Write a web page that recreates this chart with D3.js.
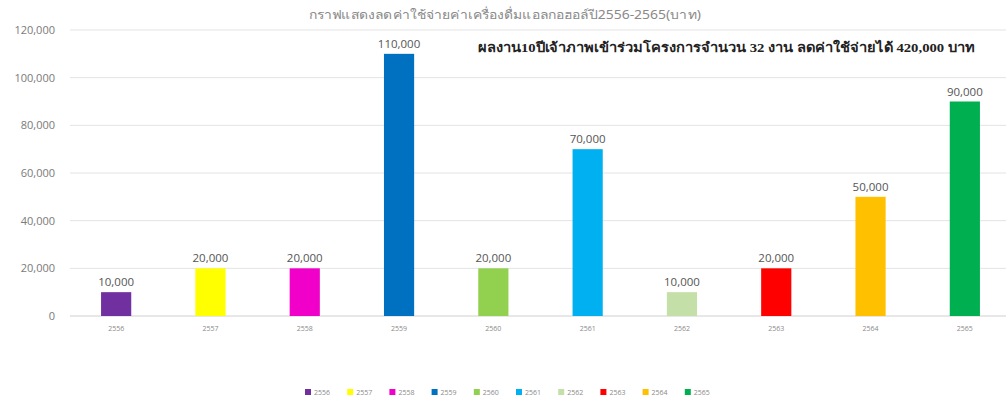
<!DOCTYPE html>
<html><head><meta charset="utf-8">
<script src="https://cdn.jsdelivr.net/npm/d3@7"></script>
<style>body{margin:0;background:#fff;}svg{display:block;}</style>
</head><body>
<svg id="c" width="1006" height="400"></svg>
<script>
const categories = ["2556","2557","2558","2559","2560","2561","2562","2563","2564","2565"];
const values = [10000,20000,20000,110000,20000,70000,10000,20000,50000,90000];
const colors = ["#7030A0","#FFFF00","#F000C8","#0070C0","#92D050","#00B0F0","#C5DFA8","#FF0000","#FFC000","#00B050"];
const yTicks = [0,20000,40000,60000,80000,100000,120000];
const titleText = "กราฟแสดงลดค่าใช้จ่ายค่าเครื่องดื่มแอลกอฮอล์ปี2556-2565(บาท)";
const noteText = "ผลงาน10ปีเจ้าภาพเข้าร่วมโครงการจำนวน 32 งาน ลดค่าใช้จ่ายได้ 420,000 บาท";

const svg = d3.select("#c");
const x = d3.scaleBand().domain(categories).range([69, 1012]).paddingInner(0.68).paddingOuter(0.34);
const y = d3.scaleLinear().domain([0,120000]).range([316,30]);
const fmt = d3.format(",");

// gridlines
svg.append("g").selectAll("line").data(yTicks).join("line")
  .attr("x1",70).attr("x2",1006)
  .attr("y1",d=>y(d)).attr("y2",d=>y(d))
  .attr("stroke",d=>d===0?"#d0d0d0":"#e3e3e3").attr("stroke-width",1);

// y axis labels
const yAxis = d3.axisLeft(y).tickValues(yTicks).tickFormat(fmt).tickSize(0).tickPadding(0);
const ga = svg.append("g").attr("transform","translate(55,0)").call(yAxis);
ga.select(".domain").remove();
ga.selectAll("text").attr("font-family","Open Sans, sans-serif").attr("font-size",11).attr("fill","#7a7a7a");

// bars
const data = categories.map((c,i)=>({c, v:values[i], col:colors[i]}));
svg.append("g").selectAll("rect").data(data).join("rect")
  .attr("x",d=>x(d.c)).attr("width",x.bandwidth())
  .attr("y",d=>y(d.v)).attr("height",d=>y(0)-y(d.v))
  .attr("fill",d=>d.col);

// value labels
svg.append("g").selectAll("text").data(data).join("text")
  .attr("x",d=>x(d.c)+x.bandwidth()/2).attr("y",d=>y(d.v)-6)
  .attr("text-anchor","middle").attr("font-family","Open Sans, sans-serif")
  .attr("font-size",11.5).attr("fill","#555").text(d=>fmt(d.v));

// x axis labels
const xAxis = d3.axisBottom(x).tickSize(0).tickPadding(0);
const gx = svg.append("g").attr("transform","translate(0,326)").call(xAxis);
gx.select(".domain").remove();
gx.selectAll("text").attr("font-family","Open Sans, sans-serif").attr("font-size",7).attr("fill","#8a8a8a");

// title
svg.append("text").attr("x",505).attr("y",19).attr("text-anchor","middle")
  .attr("font-family","Noto Sans, sans-serif").attr("font-size",12).attr("fill","#8a8a8a")
  .attr("textLength",392).attr("lengthAdjust","spacingAndGlyphs").text(titleText);

// annotation
svg.append("text").attr("x",478).attr("y",52)
  .attr("font-family","Liberation Serif, serif").attr("font-weight","bold").attr("font-size",13)
  .attr("fill","#222").attr("textLength",497).attr("lengthAdjust","spacingAndGlyphs").text(noteText);

// legend
const lg = svg.append("g").selectAll("g").data(data).join("g")
  .attr("transform",(d,i)=>`translate(${305+i*42.2},389)`);
lg.append("rect").attr("width",6).attr("height",6).attr("fill",d=>d.col);
lg.append("text").attr("x",9).attr("y",6).attr("font-family","Open Sans, sans-serif")
  .attr("font-size",7).attr("fill","#8a8a8a").text(d=>d.c);
</script>
</body></html>
